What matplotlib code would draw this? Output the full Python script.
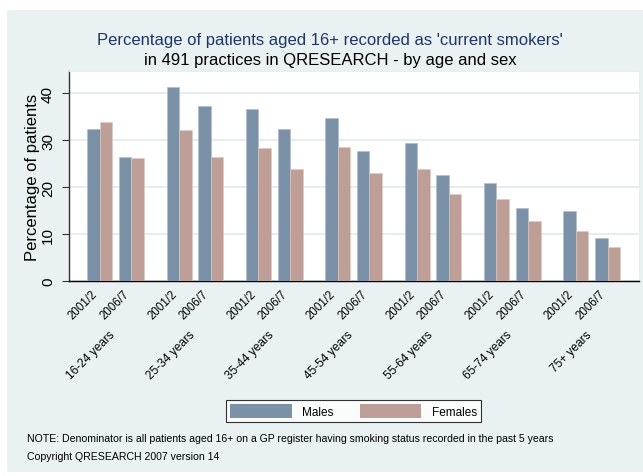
import numpy as np
import matplotlib
matplotlib.use("Agg")
import matplotlib.pyplot as plt
from matplotlib.patches import Patch

plt.rcParams['font.family'] = ['Liberation Sans', 'DejaVu Sans']

# Data
age_groups = ["16-24 years", "25-34 years", "35-44 years", "45-54 years",
              "55-64 years", "65-74 years", "75+ years"]
periods = ["2001/2", "2006/7"]
# rows = age group, cols = period
males = np.array([[32.3, 26.4],
                  [41.3, 37.2],
                  [36.6, 32.3],
                  [34.6, 27.7],
                  [29.3, 22.6],
                  [20.9, 15.5],
                  [15.0, 9.1]])
females = np.array([[33.8, 26.1],
                    [32.2, 26.4],
                    [28.4, 23.9],
                    [28.5, 23.0],
                    [23.9, 18.5],
                    [17.5, 12.8],
                    [10.7, 7.2]])
y_ticks = [0, 10, 20, 30, 40]

male_col = "#7a91a7"
female_col = "#bd9f98"
panel_col = "#e9f1f3"
grid_col = "#e3ecef"

W, H = 643, 477
fig = plt.figure(figsize=(W / 100, H / 100), dpi=100)
fig.patch.set_facecolor("white")

# light panel behind everything (stata style background)
bg = fig.add_axes([7 / W, 1 - 473 / H, (W - 7) / W, (473 - 11) / H], zorder=0)
bg.set_facecolor(panel_col)
bg.set_xticks([])
bg.set_yticks([])
for s in bg.spines.values():
    s.set_visible(False)

ax = fig.add_axes([69 / W, 1 - 282 / H, (639 - 69) / W, (282 - 72) / H], zorder=2)
ax.set_facecolor("white")

# layout in bar-width units
bw = 1.0
group_step = 6.35
period_step = 2.54
xm, xf, centers, gcenters = [], [], [], []
for g in range(len(age_groups)):
    for p in range(len(periods)):
        x0 = g * group_step + p * period_step
        xm.append(x0)
        xf.append(x0 + bw)
        centers.append(x0 + bw)
    gcenters.append(g * group_step + (period_step + 2 * bw) / 2)

ax.bar(xm, males.ravel(), width=bw, align="edge", color=male_col,
       edgecolor="#aebccb", linewidth=0.4, zorder=3)
ax.bar(xf, females.ravel(), width=bw, align="edge", color=female_col,
       edgecolor="#dcc9c4", linewidth=0.4, zorder=3)

ax.set_xlim(-1.46, 6 * group_step + period_step + 2 * bw + 1.52)
ax.set_ylim(0, 44.7)
ax.set_yticks(y_ticks)
ax.set_yticklabels([str(t) for t in y_ticks], rotation=90, va="center", fontsize=11)
ax.yaxis.grid(True, color=grid_col, linewidth=1.3, zorder=0)
ax.set_axisbelow(True)
ax.tick_params(axis="y", direction="out", length=5, width=0.8, color="#333333", pad=5)
ax.set_ylabel("Percentage of patients", fontsize=12, labelpad=1)

ax.set_xticks(centers)
ax.set_xticklabels(periods * len(age_groups), rotation=45, ha="right",
                   rotation_mode="default", fontsize=8.3)
ax.tick_params(axis="x", length=0, pad=5)

for gc, lab in zip(gcenters, age_groups):
    ax.annotate(lab, xy=(gc, 0), xycoords=("data", "axes fraction"),
                xytext=(2, -47), textcoords="offset pixels",
                rotation=45, ha="right", va="top", fontsize=8.6)

for s in ["top", "right"]:
    ax.spines[s].set_color("#e6eef0")
ax.spines["left"].set_color("#333333")
ax.spines["left"].set_linewidth(1.0)
ax.spines["bottom"].set_color("black")
ax.spines["bottom"].set_linewidth(1.0)

fig.text(330 / W, 1 - 40 / H,
         "Percentage of patients aged 16+ recorded as 'current smokers'",
         ha="center", va="center", fontsize=12, color="#1f3566", zorder=3)
fig.text(330 / W, 1 - 61 / H,
         "in 491 practices in QRESEARCH - by age and sex",
         ha="center", va="center", fontsize=12, color="black", zorder=3)

handles = [Patch(facecolor=male_col, edgecolor="none", label="Males"),
           Patch(facecolor=female_col, edgecolor="none", label="Females")]
leg = fig.legend(handles=handles, loc="center", ncol=2,
                 bbox_to_anchor=(353.5 / W, 1 - 412 / H), fontsize=8.5,
                 frameon=True, fancybox=False, edgecolor="black",
                 handlelength=5.2, handleheight=1.4, columnspacing=2.2,
                 handletextpad=0.9, borderpad=0.35)
leg.get_frame().set_linewidth(0.8)
leg.get_frame().set_facecolor("white")
leg.set_zorder(3)

fig.text(27 / W, 1 - 439 / H,
         "NOTE: Denominator is all patients aged 16+ on a GP register having smoking status recorded in the past 5 years",
         ha="left", va="center", fontsize=7.6, zorder=3)
fig.text(27 / W, 1 - 457 / H, "Copyright QRESEARCH 2007 version 14",
         ha="left", va="center", fontsize=7.6, zorder=3)

fig.savefig("out.png", dpi=100)
